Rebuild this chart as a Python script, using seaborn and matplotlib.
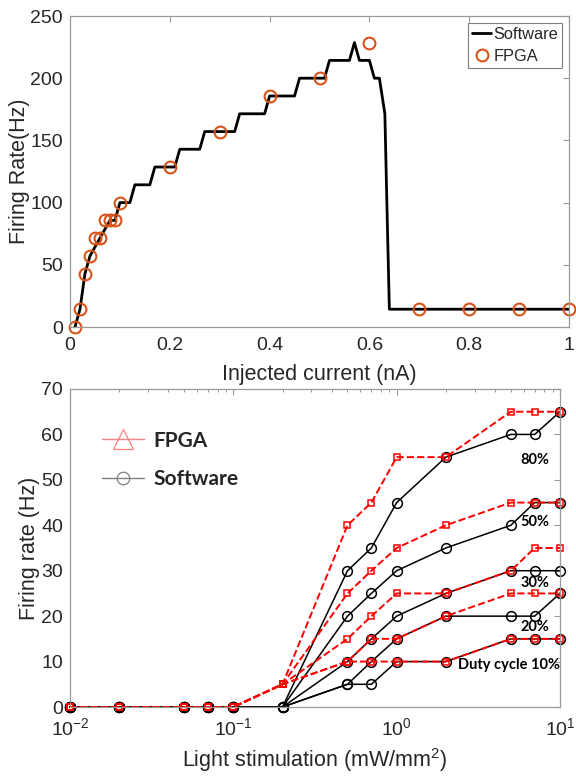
import numpy as np
import pandas as pd
import matplotlib
matplotlib.use('Agg')
import matplotlib.pyplot as plt
import seaborn as sns
from matplotlib.lines import Line2D
from matplotlib.ticker import LogLocator, NullFormatter, FixedLocator

sns.set_theme(style='white')
plt.rcParams['font.family'] = ['Liberation Sans', 'DejaVu Sans']
plt.rcParams['mathtext.default'] = 'regular'

# ---------------- Top panel data ----------------
current_sw = [0.01, 0.02, 0.03, 0.04, 0.05, 0.06, 0.07, 0.08, 0.09, 0.10, 0.12, 0.13,
              0.16, 0.17, 0.21, 0.22, 0.26, 0.27, 0.33, 0.34, 0.39, 0.40, 0.45, 0.46,
              0.51, 0.52, 0.56, 0.57, 0.58, 0.60, 0.61, 0.62, 0.631, 0.635, 0.64, 1.00]
rate_sw = [0, 14.3, 42.9, 57.1, 64.3, 71.4, 78.6, 85.7, 85.7, 100, 100, 114.3,
           114.3, 128.6, 128.6, 142.9, 142.9, 157.1, 157.1, 171.4, 171.4, 185.7, 185.7, 200,
           200, 214.3, 214.3, 228.6, 214.3, 214.3, 200, 200, 171.4, 100, 14.3, 14.3]
current_fpga = [0.01, 0.02, 0.03, 0.04, 0.05, 0.06, 0.07, 0.08, 0.09, 0.10,
                0.2, 0.3, 0.4, 0.5, 0.6, 0.7, 0.8, 0.9, 1.0]
rate_fpga = [0, 14.3, 42.9, 57.1, 71.4, 71.4, 85.7, 85.7, 85.7, 100,
             128.6, 157.1, 185.7, 200, 228.6, 14.3, 14.3, 14.3, 14.3]

# ---------------- Bottom panel data ----------------
light = [0.01, 0.02, 0.05, 0.07, 0.1, 0.2, 0.5, 0.7, 1, 2, 5, 7, 10]
sw_10 = [0, 0, 0, 0, 0, 0, 5, 5, 10, 10, 15, 15, 15]
sw_20 = [0, 0, 0, 0, 0, 0, 5, 10, 15, 20, 20, 20, 25]
sw_30 = [0, 0, 0, 0, 0, 0, 10, 15, 20, 25, 30, 30, 30]
sw_50 = [0, 0, 0, 0, 0, 0, 20, 25, 30, 35, 40, 45, 45]
sw_80 = [0, 0, 0, 0, 0, 0, 30, 35, 45, 55, 60, 60, 65]
fpga_10 = [0, 0, 0, 0, 0, 5, 10, 10, 10, 10, 15, 15, 15]
fpga_20 = [0, 0, 0, 0, 0, 5, 10, 15, 15, 20, 25, 25, 25]
fpga_30 = [0, 0, 0, 0, 0, 5, 15, 20, 25, 25, 30, 35, 35]
fpga_50 = [0, 0, 0, 0, 0, 5, 25, 30, 35, 40, 45, 45, 45]
fpga_80 = [0, 0, 0, 0, 0, 5, 40, 45, 55, 55, 65, 65, 65]
duty_labels = ['Duty cycle 10%', '20%', '30%', '50%', '80%']
duty_label_x = [4.9, 7.0, 7.0, 7.0, 7.0]
duty_label_y = [9.2, 17.7, 27.2, 40.8, 54.4]

TXT = '#262626'
SPN = '#9a9a9a'
ORANGE = '#D95319'

fig = plt.figure(figsize=(5.76, 7.77), dpi=100)
W, H = 576, 777
ax1 = fig.add_axes([70 / W, (H - 327) / H, 499 / W, 311 / H])
ax2 = fig.add_axes([70 / W, (H - 707) / H, 490 / W, 318 / H])

# ---- top ----
sns.lineplot(x=current_sw, y=rate_sw, ax=ax1, color='black', lw=2,
             sort=False, estimator=None, label='Software')
sns.lineplot(x=current_fpga, y=rate_fpga, ax=ax1, color=ORANGE, lw=0,
             marker='o', markersize=8.5, markerfacecolor='none',
             markeredgecolor=ORANGE, markeredgewidth=1.5,
             sort=False, estimator=None, label='FPGA', clip_on=False)
ax1.set_xlim(0, 1)
ax1.set_ylim(0, 250)
ax1.set_xticks([0, 0.2, 0.4, 0.6, 0.8, 1.0])
ax1.set_xticklabels(['0', '0.2', '0.4', '0.6', '0.8', '1'])
ax1.set_yticks([0, 50, 100, 150, 200, 250])
ax1.set_xlabel('Injected current (nA)', fontsize=15.5, color=TXT, labelpad=7)
ax1.set_ylabel('Firing Rate(Hz)', fontsize=15.5, color=TXT, labelpad=0.5)
leg1 = ax1.legend(loc='upper right', fontsize=11.8, frameon=True, fancybox=False,
                  edgecolor='#7f7f7f', framealpha=1, handlelength=1.15,
                  handletextpad=0.15, borderpad=0.25, labelspacing=0.45,
                  borderaxespad=0.4)
leg1.get_frame().set_linewidth(0.8)
for t in leg1.get_texts():
    t.set_color(TXT)

# ---- bottom ----
sw_series = [sw_10, sw_20, sw_30, sw_50, sw_80]
fp_series = [fpga_10, fpga_20, fpga_30, fpga_50, fpga_80]
for ys in sw_series:
    sns.lineplot(x=light, y=ys, ax=ax2, color='black', lw=1.1, marker='o',
                 markersize=7, markerfacecolor='none', markeredgecolor='black',
                 markeredgewidth=1.1, sort=False, estimator=None, clip_on=False)
for ys in fp_series:
    sns.lineplot(x=light, y=ys, ax=ax2, color='red', lw=1.4, linestyle='--',
                 dashes=(3, 2.5), marker='s', markersize=5,
                 markerfacecolor='none', markeredgecolor='red',
                 markeredgewidth=1.1, sort=False, estimator=None, clip_on=False)
ax2.set_xscale('log')
ax2.set_xlim(0.01, 10)
ax2.set_ylim(0, 70)
ax2.set_yticks(range(0, 71, 10))
ax2.xaxis.set_major_locator(LogLocator(base=10, numticks=10))
ax2.xaxis.set_minor_locator(LogLocator(base=10, subs=np.arange(2, 10), numticks=20))
ax2.xaxis.set_minor_formatter(NullFormatter())
ax2.set_xlabel('Light stimulation (mW/mm$^2$)', fontsize=15.5, color=TXT, labelpad=5.5)
ax2.set_ylabel('Firing rate (Hz)', fontsize=15.5, color=TXT, labelpad=0.5)

for lab, xx, yy in zip(duty_labels, duty_label_x, duty_label_y):
    ax2.text(xx, yy, lab, fontsize=10.5, fontweight='bold', family=['Lato', 'DejaVu Sans'],
             color='black', ha='center', va='center')

handles = [Line2D([], [], color='#ff8080', lw=1, marker='^', markersize=15,
                  markerfacecolor='none', markeredgecolor='#ff8080', markeredgewidth=0.9),
           Line2D([], [], color='#808080', lw=1, marker='o', markersize=9,
                  markerfacecolor='none', markeredgecolor='#808080', markeredgewidth=0.9)]
leg2 = ax2.legend(handles, ['FPGA', 'Software'], loc='upper left',
                  bbox_to_anchor=(0.045, 0.902), frameon=False,
                  prop={'family': ['Lato', 'DejaVu Sans'], 'weight': 'bold', 'size': 15},
                  handlelength=2.0, handletextpad=0.45, labelspacing=0.9, borderpad=0)

for ax in (ax1, ax2):
    for s in ax.spines.values():
        s.set_visible(True)
        s.set_color(SPN)
        s.set_linewidth(0.9)
    ax.tick_params(which='major', direction='in', top=True, right=True, length=4.5,
                   width=0.8, color=SPN, labelsize=14, labelcolor=TXT, pad=5)
    ax.tick_params(which='minor', direction='in', top=True, right=True, length=2.5,
                   width=0.7, color=SPN)
    ax.set_facecolor('white')
ax1.tick_params(axis='x', which='major', pad=7.2)
ax2.tick_params(axis='x', which='major', pad=7)

fig.savefig('out.png', dpi=100, facecolor='white')
